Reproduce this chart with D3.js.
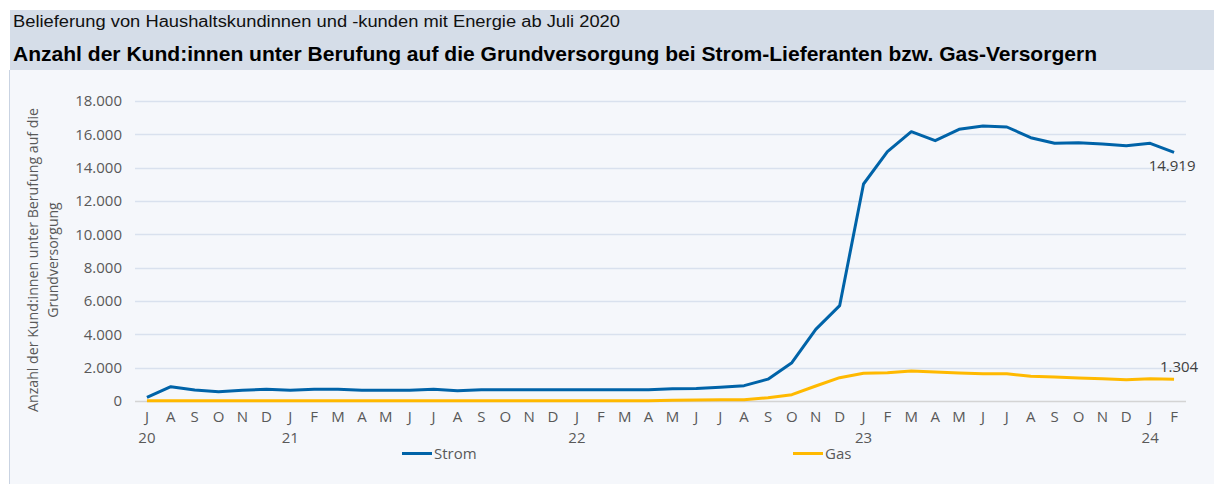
<!DOCTYPE html>
<html><head><meta charset="utf-8">
<script src="https://cdn.jsdelivr.net/npm/d3@7"></script>
<style>
html,body{margin:0;padding:0;background:#fff;}
svg{display:block;}
</style></head>
<body>
<svg id="c" width="1214" height="484"></svg>
<script>
const months = ["J","A","S","O","N","D","J","F","M","A","M","J","J","A","S","O","N","D","J","F","M","A","M","J","J","A","S","O","N","D","J","F","M","A","M","J","J","A","S","O","N","D","J","F"];
const yearLabels = [{i:0,t:"20"},{i:6,t:"21"},{i:18,t:"22"},{i:30,t:"23"},{i:42,t:"24"}];
const strom = [220,860,660,560,650,700,650,700,700,650,650,650,
  700,620,680,680,680,680,680,680,680,680,730,750,
  830,920,1310,2300,4300,5720,13020,14960,16160,15620,16300,16500,
  16440,15800,15460,15500,15420,15320,15460,14919];
const gas = [20,20,20,20,20,20,20,20,20,20,20,20,
  20,20,20,20,20,20,20,20,20,20,40,60,
  80,80,200,380,900,1400,1660,1700,1800,1740,1680,1640,
  1640,1480,1440,1380,1340,1280,1340,1304];
const yTicks = [0,2000,4000,6000,8000,10000,12000,14000,16000,18000];
const title1 = "Belieferung von Haushaltskundinnen und -kunden mit Energie ab Juli 2020";
const title2 = "Anzahl der Kund:innen unter Berufung auf die Grundversorgung bei Strom-Lieferanten bzw. Gas-Versorgern";
const yLabel = ["Anzahl der Kund:innen unter Berufung auf die","Grundversorgung"];

const svg = d3.select("#c");
const F = "'Open Sans', 'Liberation Sans', sans-serif";
// backgrounds
svg.append("rect").attr("x",9).attr("y",70).attr("width",1205).attr("height",414).attr("fill","#f5f7fb");
svg.append("line").attr("x1",9.5).attr("x2",9.5).attr("y1",70).attr("y2",484).attr("stroke","#c9d3e2");
svg.append("rect").attr("x",10).attr("y",10).attr("width",1204).attr("height",60).attr("fill","#d5dde8");
svg.append("text").attr("x",13).attr("y",27).attr("font-family","'Liberation Sans',sans-serif").attr("font-size",16)
  .attr("textLength",607).attr("lengthAdjust","spacingAndGlyphs").attr("fill","#111").text(title1);
svg.append("text").attr("x",13).attr("y",61).attr("font-family","'Liberation Sans',sans-serif").attr("font-size",21).attr("font-weight","bold")
  .attr("textLength",1084).attr("lengthAdjust","spacingAndGlyphs").attr("fill","#000").text(title2);

const x = d3.scaleBand().domain(d3.range(months.length)).range([135,1186]);
const cx = i => x(i) + x.bandwidth()/2;
const y = d3.scaleLinear().domain([0,18000]).range([401,101]);

// grid
svg.append("g").selectAll("line").data(yTicks.filter(d=>d>0)).join("line")
  .attr("x1",135).attr("x2",1186).attr("y1",d=>Math.round(y(d))+0.5).attr("y2",d=>Math.round(y(d))+0.5)
  .attr("stroke","#d9e1ee").attr("stroke-width",1.3);
svg.append("line").attr("x1",135).attr("x2",1186).attr("y1",401.5).attr("y2",401.5).attr("stroke","#d4d4d4").attr("stroke-width",1.3);

const fmt = d3.formatLocale({decimal:",",thousands:".",grouping:[3],currency:["","€"]}).format(",");
const yAxis = d3.axisLeft(y).tickValues(yTicks).tickSize(0).tickPadding(0).tickFormat(fmt);
const ga = svg.append("g").attr("transform","translate(122,0)").call(yAxis);
ga.select(".domain").remove();
ga.selectAll("text").attr("font-family",F).attr("font-size",15).attr("fill","#595959");

const xAxis = d3.axisBottom(x).tickSize(0).tickPadding(0).tickFormat(i=>months[i]);
const gx = svg.append("g").attr("transform","translate(0,411)").call(xAxis);
gx.select(".domain").remove();
gx.selectAll("text").attr("font-family",F).attr("font-size",15).attr("fill","#595959");

svg.append("g").selectAll("text").data(yearLabels).join("text")
  .attr("x",d=>cx(d.i)).attr("y",443).attr("text-anchor","middle")
  .attr("font-family",F).attr("font-size",15).attr("fill","#595959").text(d=>d.t);

// y label
const yl = svg.append("text").attr("transform","translate(0,260) rotate(-90)")
  .attr("font-family",F).attr("font-size",14).attr("fill","#595959").attr("text-anchor","middle");
yl.append("tspan").attr("x",0).attr("y",38).attr("textLength",304).attr("lengthAdjust","spacingAndGlyphs").text(yLabel[0]);
yl.append("tspan").attr("x",0).attr("y",58).text(yLabel[1]);

const line = d3.line().x((d,i)=>cx(i)).y(d=>y(d));
svg.append("path").datum(gas).attr("d",line).attr("fill","none").attr("stroke","#ffb900").attr("stroke-width",3).attr("stroke-linejoin","round");
svg.append("path").datum(strom).attr("d",line).attr("fill","none").attr("stroke","#0063a8").attr("stroke-width",3).attr("stroke-linejoin","round");

const last = months.length-1;
svg.append("text").attr("x",cx(last)-2).attr("y",y(strom[last])+19).attr("text-anchor","middle")
  .attr("font-family",F).attr("font-size",15).attr("fill","#404040").text(fmt(strom[last]));
svg.append("text").attr("x",cx(last)+5).attr("y",y(gas[last])-7).attr("text-anchor","middle")
  .attr("font-family",F).attr("font-size",15).attr("fill","#404040").text(fmt(gas[last]));

// legend
const leg = [{n:"Strom",c:"#0063a8",x:402},{n:"Gas",c:"#ffb900",x:793}];
const gl = svg.append("g").selectAll("g").data(leg).join("g");
gl.append("line").attr("x1",d=>d.x).attr("x2",d=>d.x+30).attr("y1",453.5).attr("y2",453.5).attr("stroke",d=>d.c).attr("stroke-width",3);
gl.append("text").attr("x",d=>d.x+32).attr("y",459).attr("font-family",F).attr("font-size",15).attr("fill","#595959").text(d=>d.n);
</script>
</body></html>
